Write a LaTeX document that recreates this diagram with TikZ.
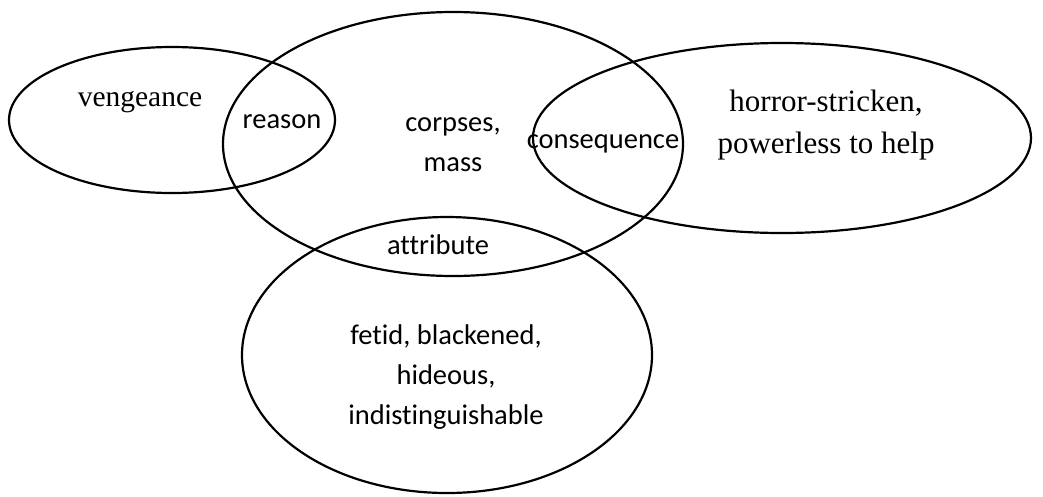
\documentclass[tikz,border=0pt]{standalone}
\usepackage{fontspec}
\setmainfont{Liberation Serif}
\newfontfamily\calfont[Ligatures={NoCommon}]{Carlito}
\usetikzlibrary{shapes.geometric}
\tikzset{
  venn/.style={ellipse, draw=black, line width=2.2pt, inner sep=0pt},
  serlabel/.style={font=\fontsize{29.5}{42}\selectfont, align=center, inner sep=0pt},
  callabel/.style={font=\calfont\fontsize{28.5}{40}\selectfont, align=center, inner sep=0pt}
}
\begin{document}
\begin{tikzpicture}[x=1pt,y=-1pt]
\useasboundingbox (0,0) rectangle (1043,496);
\node[venn, minimum width=326pt, minimum height=146pt] (left) at (172,120) {};
\node[venn, minimum width=460pt, minimum height=264pt] (mid) at (453,144) {};
\node[venn, minimum width=498pt, minimum height=190pt] (right) at (782,138) {};
\node[venn, minimum width=410pt, minimum height=276pt] (bot) at (447,355) {};

\node[serlabel] (veng) at (140,102) {vengeance};
\node[callabel] (reason) at (282,122) {reason};
\node[callabel] (corpses) at (453,145) {corpses,\\mass};
\node[callabel] (cons) at (603,144) {consequence};
\node[serlabel, font=\fontsize{31}{42}\selectfont] (horror) at (826,125) {horror-stricken,\\powerless to help};
\node[callabel] (attr) at (438,245) {attribute};
\node[callabel] (fetid) at (446,377) {fetid, blackened,\\hideous,\\indistinguishable};
\end{tikzpicture}
\end{document}
